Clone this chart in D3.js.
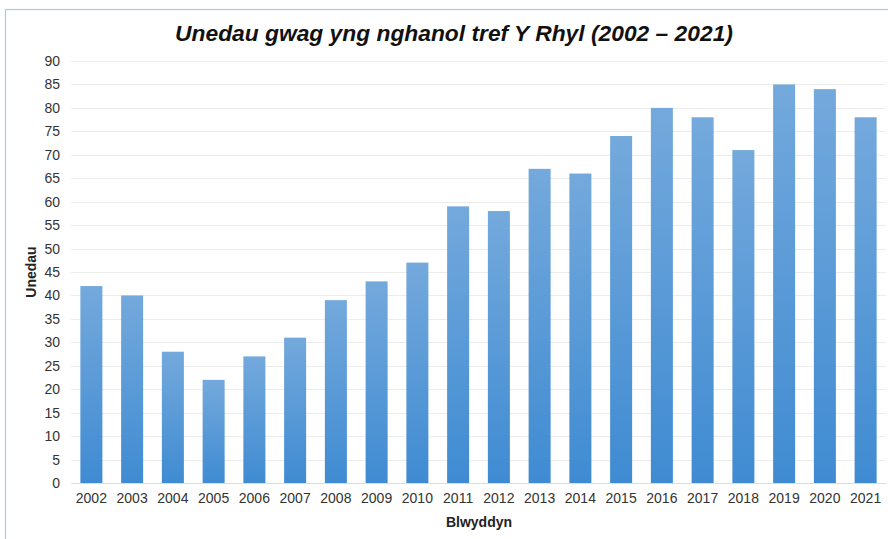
<!DOCTYPE html>
<html>
<head>
<meta charset="utf-8">
<script src="https://cdn.jsdelivr.net/npm/d3@7"></script>
<style>
  body { margin: 0; background: #fff; }
  svg { display: block; font-family: "Liberation Sans", Arial, sans-serif; }
</style>
</head>
<body>
<div id="chart"></div>
<script>
const years = ["2002","2003","2004","2005","2006","2007","2008","2009","2010","2011",
               "2012","2013","2014","2015","2016","2017","2018","2019","2020","2021"];
const units = [42,40,28,22,27,31,39,43,47,59,58,67,66,74,80,78,71,85,84,78];
const yTicks = d3.range(0, 91, 5);

const W = 888, H = 539;
const margin = { top: 61, right: 2, bottom: 56, left: 71 },
    width = W - margin.left - margin.right,
    height = H - margin.top - margin.bottom;

const root = d3.select("#chart").append("svg")
    .attr("width", W).attr("height", H);

// gradient for bars
const grad = root.append("defs").append("linearGradient")
    .attr("id", "barGrad").attr("x1", 0).attr("y1", 0).attr("x2", 0).attr("y2", 1);
grad.append("stop").attr("offset", "0%").attr("stop-color", "#74a9dc");
grad.append("stop").attr("offset", "100%").attr("stop-color", "#3f8bd2");

// outer frame
root.append("rect")
    .attr("x", 5.5).attr("y", 9.5).attr("width", W).attr("height", H)
    .attr("fill", "none").attr("stroke", "#a9c9e8").attr("stroke-width", 1.2);

const svg = root.append("g")
    .attr("transform", `translate(${margin.left}, ${margin.top})`);

const x = d3.scaleBand().domain(years).range([0, width]).paddingInner(0.46).paddingOuter(0.23);
const y = d3.scaleLinear().domain([0, 90]).range([height, 0]);

// grid lines
svg.append("g")
    .selectAll("line")
    .data(yTicks)
    .join("line")
    .attr("x1", 0).attr("x2", width)
    .attr("y1", d => Math.round(y(d)) + 0.5).attr("y2", d => Math.round(y(d)) + 0.5)
    .attr("stroke", "#ececec").attr("stroke-width", 1);

// bars
svg.append("g")
    .selectAll("rect")
    .data(units)
    .join("rect")
    .attr("x", (d, i) => x(years[i]))
    .attr("y", d => y(d))
    .attr("width", x.bandwidth())
    .attr("height", d => height - y(d))
    .attr("fill", "url(#barGrad)");

// Y axis
const yAxis = svg.append("g")
    .call(d3.axisLeft(y).tickValues(yTicks).tickSize(0).tickPadding(11));
yAxis.select(".domain").remove();
yAxis.selectAll("text").attr("font-size", 14).attr("fill", "#333");

// X axis
const xAxis = svg.append("g")
    .attr("transform", `translate(0, ${height})`)
    .call(d3.axisBottom(x).tickSize(0).tickPadding(10));
xAxis.select(".domain").attr("stroke", "#dcdcdc");
xAxis.selectAll("text").attr("font-size", 14).attr("fill", "#333");

// title
root.append("text")
    .attr("x", 454).attr("y", 41)
    .attr("text-anchor", "middle")
    .attr("font-size", 22.8).attr("font-weight", "bold").attr("font-style", "italic")
    .attr("fill", "#111")
    .text("Unedau gwag yng nghanol tref Y Rhyl (2002 – 2021)");

// axis titles
root.append("text")
    .attr("transform", `translate(36, 272) rotate(-90)`)
    .attr("text-anchor", "middle")
    .attr("font-size", 14).attr("font-weight", "bold").attr("fill", "#222")
    .text("Unedau");

root.append("text")
    .attr("x", 479).attr("y", 527)
    .attr("text-anchor", "middle")
    .attr("font-size", 14).attr("font-weight", "bold").attr("fill", "#222")
    .text("Blwyddyn");
</script>
</body>
</html>
